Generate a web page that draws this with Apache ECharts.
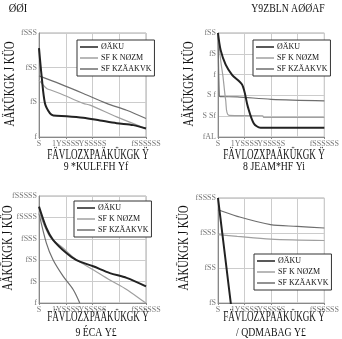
<!DOCTYPE html>
<html>
<head>
<meta charset="utf-8">
<script src="https://cdn.jsdelivr.net/npm/echarts@6/dist/echarts.min.js"></script>
<style>
  html, body { margin: 0; padding: 0; background: #fff; }
  #chart { width: 342px; height: 339px; }
</style>
</head>
<body>
<div id="chart"></div>
<script>
// labels as they appear in the figure
const seriesNames = ['ØÄKU', 'SF K NØZM', 'SF KZÄAKVK'];
const xTickLabels = ['S', '1YSSSS', 'YSSSSS', '9YSSSS', 'fSSSSSS'];
const yTicksTL = ['f', 'fS', 'fSS', 'fSSS'];              // 10^0 .. 10^3
const yTicksTR = ['fAL', 'S Sf', 'S f', 'f', 'fS', 'fSS']; // 10^-3 .. 10^2
const yTicksBL = ['f', 'fS', 'fSS', 'fSSS', 'fSSSS', 'fSSSSS']; // 10^0 .. 10^5
const yTicksBR = ['fS', 'fSS', 'fSSS', 'fSSSS'];          // 10^1 .. 10^4
const titleLeft = 'ØØI';
const titleRight = 'Y9ZBLN AØØAF';
const xName = 'FÄVLOZXPAÄKÜKGK Ÿ';
const yName = 'AÄKÜKGK J KÜO';
const captions = ['9 *KULF.FH Yf', '8 JEAM*HF Yi', '9 ÉCA Y£', '/ QDMABAG Y£'];

// top-left panel
const tlBest = [[0, 365], [25000, 55], [56000, 9.3], [103000, 4.8], [134000, 4.2], [258000, 4.0], [414000, 3.6], [570000, 3.0], [726000, 2.5], [882000, 2.2], [1000000, 1.75]];
const tlSecond = [[0, 44], [72000, 25], [103000, 23], [196000, 18], [414000, 9.3], [477000, 8.3], [726000, 3.8], [1000000, 1.75]];
const tlThird = [[0, 58], [196000, 34], [414000, 18], [632000, 9.3], [819000, 5.9], [1000000, 3.4]];

// top-right panel
const trBest = [[0, 100], [25000, 15], [72000, 3], [134000, 0.95], [228000, 0.32], [281000, 0.028], [337000, 0.0045], [400000, 0.0028], [1000000, 0.0028]];
const trSecond = [[0, 100], [25000, 5], [47000, 0.8], [72000, 0.06], [103000, 0.011], [420000, 0.0105], [430000, 0.0088], [1000000, 0.0088]];
const trThird = [[0, 100], [12000, 0.1], [20000, 0.088], [180000, 0.085], [500000, 0.065], [1000000, 0.055]];

// bottom-left panel
const blBest = [[0, 32000], [69000, 3200], [131000, 900], [256000, 215], [350000, 100], [506000, 52], [662000, 25], [819000, 15], [1000000, 6]];
const blSecond = [[0, 18600], [100000, 1300], [225000, 370], [350000, 105], [506000, 36], [662000, 12], [819000, 4.3], [975000, 1.2], [1000000, 1]];
const blThird = [[0, 15500], [69000, 630], [131000, 105], [225000, 18], [319000, 4.3], [381000, 1]];

// bottom-right panel
const brBest = [[0, 10000], [40000, 1000], [80000, 100], [120000, 10], [125000, 8]];
const brSecond = [[0, 900], [181000, 800], [494000, 670], [1000000, 610]];
const brThird = [[0, 4600], [181000, 3000], [494000, 1730], [744000, 1550], [1000000, 1390]];

const chart = echarts.init(document.getElementById('chart'));

const serifFont = "'Liberation Serif', 'DejaVu Serif', serif";
const lineColors = ['#222', '#a0a0a0', '#6e6e6e'];
const lineWidths = [2, 1.2, 1.2];

const panels = [
  { grid: { left: 39, top: 33, width: 107, height: 104 }, min: 1, max: 1000, minExp: 0, ticks: yTicksTL,
    data: [tlBest, tlSecond, tlThird], legend: { left: 77, top: 40 } },
  { grid: { left: 218, top: 33, width: 107, height: 104 }, min: 0.001, max: 100, minExp: -3, ticks: yTicksTR,
    data: [trBest, trSecond, trThird], legend: { left: 253, top: 40 } },
  { grid: { left: 39, top: 196, width: 107, height: 107 }, min: 1, max: 100000, minExp: 0, ticks: yTicksBL,
    data: [blBest, blSecond, blThird], legend: { left: 74, top: 201 } },
  { grid: { left: 218, top: 198, width: 107, height: 105 }, min: 10, max: 10000, minExp: 1, ticks: yTicksBR,
    data: [brBest, brSecond, brThird], legend: { left: 254, top: 254 } }
];

const grids = [], xAxes = [], yAxes = [], series = [], legends = [];

panels.forEach((p, i) => {
  grids.push(Object.assign({ show: true, borderColor: '#aaa', borderWidth: 1 }, p.grid));
  xAxes.push({
    type: 'value', gridIndex: i, min: 0, max: 1000000, interval: 250000,
    axisLine: { show: true, lineStyle: { color: '#888' } },
    axisTick: { show: true, length: 2, lineStyle: { color: '#888' } },
    splitLine: { show: true, lineStyle: { color: '#ccc', width: 1 } },
    axisLabel: {
      color: '#777', fontSize: 8, fontFamily: serifFont, margin: 3, showMinLabel: true, showMaxLabel: true,
      formatter: (v) => xTickLabels[Math.round(v / 250000)]
    }
  });
  yAxes.push({
    type: 'log', logBase: 10, gridIndex: i, min: p.min, max: p.max,
    axisLine: { show: true, lineStyle: { color: '#888' } },
    axisTick: { show: false },
    splitLine: { show: true, lineStyle: { color: '#ccc', width: 1 } },
    minorTick: { show: false },
    axisLabel: {
      color: '#777', fontSize: 8, fontFamily: serifFont, margin: 2,
      formatter: (v) => p.ticks[Math.round(Math.log10(v)) - p.minExp]
    }
  });
  p.data.forEach((d, k) => {
    series.push({
      name: seriesNames[k], type: 'line', xAxisIndex: i, yAxisIndex: i,
      data: d, symbol: 'none', smooth: 0.3, clip: true,
      lineStyle: { color: lineColors[k], width: lineWidths[k] },
      itemStyle: { color: lineColors[k] },
      z: 3 - k
    });
  });
  legends.push({
    left: p.legend.left, top: p.legend.top, orient: 'vertical',
    data: seriesNames, icon: 'rect', itemWidth: 18, itemHeight: 1.5, itemGap: 3,
    padding: [3, 3, 3, 3], borderColor: '#333', borderWidth: 1, backgroundColor: '#fff',
    textStyle: { fontSize: 8, fontFamily: serifFont, color: '#111', padding: [0, 0, 0, -2] },
    selectedMode: false
  });
});

const textEl = (txt, x, y, size, rot, sx) => ({
  type: 'text', x: x, y: y, rotation: rot || 0, scaleX: sx || 1,
  style: { text: txt, fontSize: size, fontFamily: serifFont, fill: '#111', align: 'center', verticalAlign: 'middle' }
});

const graphics = [
  textEl(titleLeft, 18, 9, 13, 0, 0.8),
  textEl(titleRight, 288, 9, 13, 0, 0.75),
  textEl(xName, 98, 155, 14, 0, 0.65),
  textEl(xName, 274, 155, 14, 0, 0.65),
  textEl(xName, 98, 317, 14, 0, 0.65),
  textEl(xName, 274, 317, 14, 0, 0.65),
  textEl(captions[0], 96, 167, 13, 0, 0.75),
  textEl(captions[1], 274, 167, 13, 0, 0.75),
  textEl(captions[2], 96, 333, 13, 0, 0.75),
  textEl(captions[3], 271, 333, 13, 0, 0.75),
  textEl(yName, 10, 84, 14, Math.PI / 2, 0.75),
  textEl(yName, 189, 84, 14, Math.PI / 2, 0.75),
  textEl(yName, 8, 248, 14, Math.PI / 2, 0.75),
  textEl(yName, 184, 248, 14, Math.PI / 2, 0.75)
];

chart.setOption({
  animation: false,
  backgroundColor: '#fff',
  grid: grids,
  xAxis: xAxes,
  yAxis: yAxes,
  legend: legends,
  series: series,
  graphic: graphics
});

window.addEventListener('resize', () => chart.resize());
</script>
</body>
</html>
